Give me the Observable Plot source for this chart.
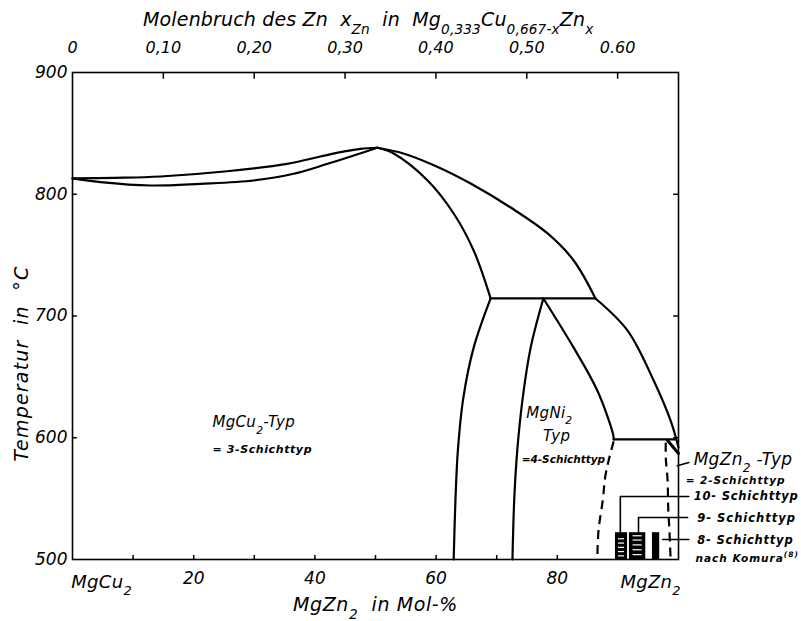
<!DOCTYPE html>
<html>
<head>
<meta charset="utf-8">
<script src="https://cdn.jsdelivr.net/npm/d3@7"></script>
<script src="https://cdn.jsdelivr.net/npm/@observablehq/plot@0.6"></script>
<style>
  html, body { margin: 0; padding: 0; background: #fff; }
  svg text { font-style: italic; }
</style>
</head>
<body>
<script>
// ---------- data (x = MgZn2 in Mol-%, t = Temperatur in °C) ----------
const liquidusLeft = [[0,813],[7,813.5],[14.5,814.6],[25.5,818.9],[35.4,825],[40.9,831],[44.7,835],[47.5,837.3],[50.3,838.2]];
const solidusLeft  = [[0,813],[4.6,810],[12.9,807.2],[21.1,808.6],[29.9,811.3],[36.5,816.8],[42.1,825],[46.4,831.8],[50.3,838.2]];
const liquidusRightUpper = [[50.3,838.2],[54.6,833.5],[60,823],[65.7,808.8],[72.3,789.1],[78.4,767.8],[82.7,745.6],[86.3,714.4]];
const liquidusRightLower = [[86.3,714.4],[91.6,688],[95.9,647],[98.7,614],[100,592]];
const solidusRight = [[50.3,838.2],[53,833.5],[58.6,811.3],[62.9,784.2],[66.2,753.8],[69,714.4]];
const peritectic714 = [[69,714.4],[86.3,714.4]];
const boundaryA = [[69,714.4],[66.2,674],[64.5,633],[63.6,590],[63.2,550],[62.9,500]];
const boundaryB = [[77.7,714.4],[75.6,674],[74.3,633],[73.4,590],[72.9,550],[72.6,500]];
const boundaryC = [[77.7,714.4],[82.7,674],[86.6,638.8],[89.2,603],[89.3,598.6]];
const peritectic600 = [[89.3,598.6],[99.5,598.6]];
const cornerLine = [[98.2,597.8],[100,587]];
const dashedLeft  = [[89.3,597],[88.0,570.6],[87.5,548.5],[86.8,523.8],[86.6,500]];
const dashedRight = [[97.9,596],[97.9,583.8],[98.2,565],[98.3,542.7],[98.5,523.8],[98.7,500]];

// Komura layer-type blocks [x1, x2, t1, t2]
const blocks = [[89.6,91.6,500,522],[91.9,94.6,500,522],[95.7,96.9,500,522]];
const hatchLevels1 = [503,506.5,510,513.5,517];
const hatchLevels2 = [504,508,512,516,519.5];

// leader lines
const leader10 = [[101.7,551.7],[90.4,551.7],[90.4,522]];
const leader9  = [[101.5,534.5],[93.4,534.5],[93.4,522]];
const leader8  = [[101.7,516.4],[97.4,516.4]];
const leaderMgZn2 = [[99.8,577],[101.7,579.7]];

// ticks
const bottomTicks = [10,20,30,40,50,60,70,80,90];
const bottomLabels = [20,40,60,80];
const yTicks = [500,600,700,800,900];
const yInnerTicks = [600,700,800];
const topValues = [0,0.10,0.20,0.30,0.40,0.50,0.60];
const topLabels = ["0","0,10","0,20","0,30","0,40","0,50","0.60"];
const xZnMax = 0.667;

// labels
const regionLabels = [
  {x:23.1, t:612.5, text:"MgCu_{2}-Typ", size:15, anchor:"start", weight:"normal", ls:0.3},
  {x:23.1, t:590,   text:"= 3-Schichttyp", size:11, anchor:"start", weight:"bold", ls:0.6},
  {x:78.7, t:620,   text:"MgNi_{2}", size:15, anchor:"middle", weight:"normal", ls:0.3},
  {x:79.9, t:601,   text:"Typ", size:15, anchor:"middle", weight:"normal", ls:0.3},
  {x:81.0, t:582,   text:"=4-Schichttyp", size:10.5, anchor:"middle", weight:"bold", ls:0}
];
const sideLabels = [
  {x:102.5, t:582.5, text:"MgZn_{2} -Typ", size:17, weight:"normal", ls:0.3},
  {x:101.2, t:564.5, text:"= 2-Schichttyp", size:10.5, weight:"bold", ls:0.9},
  {x:102.5, t:551.7, text:"10- Schichttyp", size:11.5, weight:"bold", ls:0.8},
  {x:103.1, t:533.7, text:"9- Schichttyp", size:11.5, weight:"bold", ls:1.0},
  {x:103.1, t:515.6, text:"8- Schichttyp", size:11.5, weight:"bold", ls:0.8},
  {x:102.8, t:500.8, text:"nach Komura^{(8)}", size:10.5, weight:"bold", ls:1.0}
];
const titles = [
  {x:48.8, t:943.5, s:"Molenbruch des Zn  x_{Zn}  in  Mg_{0,333}Cu_{0,667-x}Zn_{x}", size:19, rotate:0, ls:0.15},
  {x:50, t:462.5, s:"MgZn_{2}  in Mol-%", size:19, rotate:0, ls:0.6},
  {x:-8.4, t:661, s:"Temperatur  in  °C", size:19, rotate:-90, ls:1.2},
  {x:4.8, t:481.5, s:"MgCu_{2}", size:18, rotate:0, ls:0.3},
  {x:95.4, t:481.5, s:"MgZn_{2}", size:18, rotate:0, ls:0.3}
];

// ---------- helpers ----------
const toObj = a => a.map(([x,t]) => ({x,t}));
const curve = (a, extra={}) => Plot.line(toObj(a), {x:"x", y:"t", stroke:"black", strokeWidth:2.2, curve:"catmull-rom", strokeLinejoin:"round", strokeLinecap:"round", ...extra});
const topPos = topValues.map(v => v / xZnMax * 100);
const topLabelMap = new Map(topPos.map((p,i) => [p, topLabels[i]]));
const spacing = new Map([...regionLabels, ...sideLabels].map(l => [l.text, l.ls]).concat(titles.map(l => [l.s, l.ls])));

const font = "'DejaVu Sans', sans-serif";

const chart = Plot.plot({
  width: 801,
  height: 621,
  marginLeft: 72,
  marginRight: 123,
  marginTop: 72,
  marginBottom: 62,
  x: {domain: [0,100]},
  y: {domain: [500,900]},
  style: {fontFamily: font, fontSize: "16px", background: "white", color: "black", overflow: "visible"},
  marks: [
    Plot.frame({stroke:"black", strokeWidth:1.6}),
    // inward ticks
    Plot.ruleX(bottomTicks, {x: d => d, y1: 500, y2: 503.3, stroke:"black", strokeWidth:1.5}),
    Plot.ruleX(topPos.slice(1), {x: d => d, y1: 900, y2: 894.5, stroke:"black", strokeWidth:1.5}),
    Plot.ruleY(yInnerTicks, {y: d => d, x1: 0, x2: 0.8, stroke:"black", strokeWidth:1.5}),
    Plot.ruleY(yInnerTicks, {y: d => d, x1: 100, x2: 99.2, stroke:"black", strokeWidth:1.5}),
    // axis labels
    Plot.axisY({ticks: yTicks, tickSize: 0, tickPadding: 5, fontSize: 17, label: null}),
    Plot.axisX({anchor:"bottom", ticks: bottomLabels, tickSize: 0, tickPadding: 12, fontSize: 17, label: null}),
    Plot.axisX({anchor:"top", ticks: topPos, tickFormat: d => topLabelMap.get(d), tickSize: 0, tickPadding: 20, fontSize: 16, label: null}),
    // curves
    curve(liquidusLeft),
    curve(solidusLeft),
    curve(liquidusRightUpper),
    curve(liquidusRightLower),
    curve(solidusRight),
    curve(peritectic714, {curve:"linear"}),
    curve(boundaryA),
    curve(boundaryB),
    curve(boundaryC),
    curve(peritectic600, {curve:"linear"}),
    curve(cornerLine, {curve:"linear", strokeWidth:3}),
    curve(dashedLeft, {strokeDasharray:"9,6", strokeLinecap:"butt"}),
    curve(dashedRight, {strokeDasharray:"9,6", strokeLinecap:"butt"}),
    // Komura blocks
    Plot.rect(blocks, {x1: d => d[0], x2: d => d[1], y1: d => d[2], y2: d => d[3], fill:"black"}),
    Plot.ruleY(hatchLevels1, {y: d => d, x1: 90.1, x2: 91.1, stroke:"white", strokeWidth:1.2}),
    Plot.ruleY(hatchLevels2, {y: d => d, x1: 92.5, x2: 94.0, stroke:"white", strokeWidth:1.2}),
    // leaders
    curve(leader10, {curve:"linear", strokeWidth:1.6}),
    curve(leader9, {curve:"linear", strokeWidth:1.6}),
    curve(leader8, {curve:"linear", strokeWidth:1.6}),
    curve(leaderMgZn2, {curve:"linear", strokeWidth:1.6}),
    // region & side labels
    ...regionLabels.map(l => Plot.text([l], {x:"x", y:"t", text:"text", fontSize:l.size, textAnchor:l.anchor, fontWeight:l.weight})),
    ...sideLabels.map(l => Plot.text([l], {x:"x", y:"t", text:"text", fontSize:l.size, textAnchor:"start", fontWeight:l.weight})),
    // titles and compound labels
    ...titles.map(l => Plot.text([l], {x:"x", y:"t", text:"s", fontSize:l.size, rotate:l.rotate}))
  ]
});

document.body.append(chart);

// letter spacing + render _{...} as subscripts and ^{...} as superscripts, keeping real text
d3.select(chart).selectAll("text").each(function() {
  const s = this.textContent;
  if (spacing.has(s)) this.setAttribute("letter-spacing", spacing.get(s));
  if (!/[_^]\{/.test(s)) return;
  const fs = parseFloat(getComputedStyle(this).fontSize) || 14;
  const el = d3.select(this);
  el.text(null);
  const re = /([_^])\{([^}]*)\}/g;
  let last = 0, cur = 0, m;
  const add = (str, off, small) => {
    if (!str) return;
    const t = el.append("tspan").attr("dy", off - cur).text(str);
    if (small) t.attr("font-size", fs * 0.72);
    cur = off;
  };
  while ((m = re.exec(s))) {
    add(s.slice(last, m.index), 0, false);
    add(m[2], m[1] === "_" ? fs * 0.42 : -fs * 0.42, true);
    last = re.lastIndex;
  }
  add(s.slice(last), 0, false);
});
</script>
</body>
</html>
